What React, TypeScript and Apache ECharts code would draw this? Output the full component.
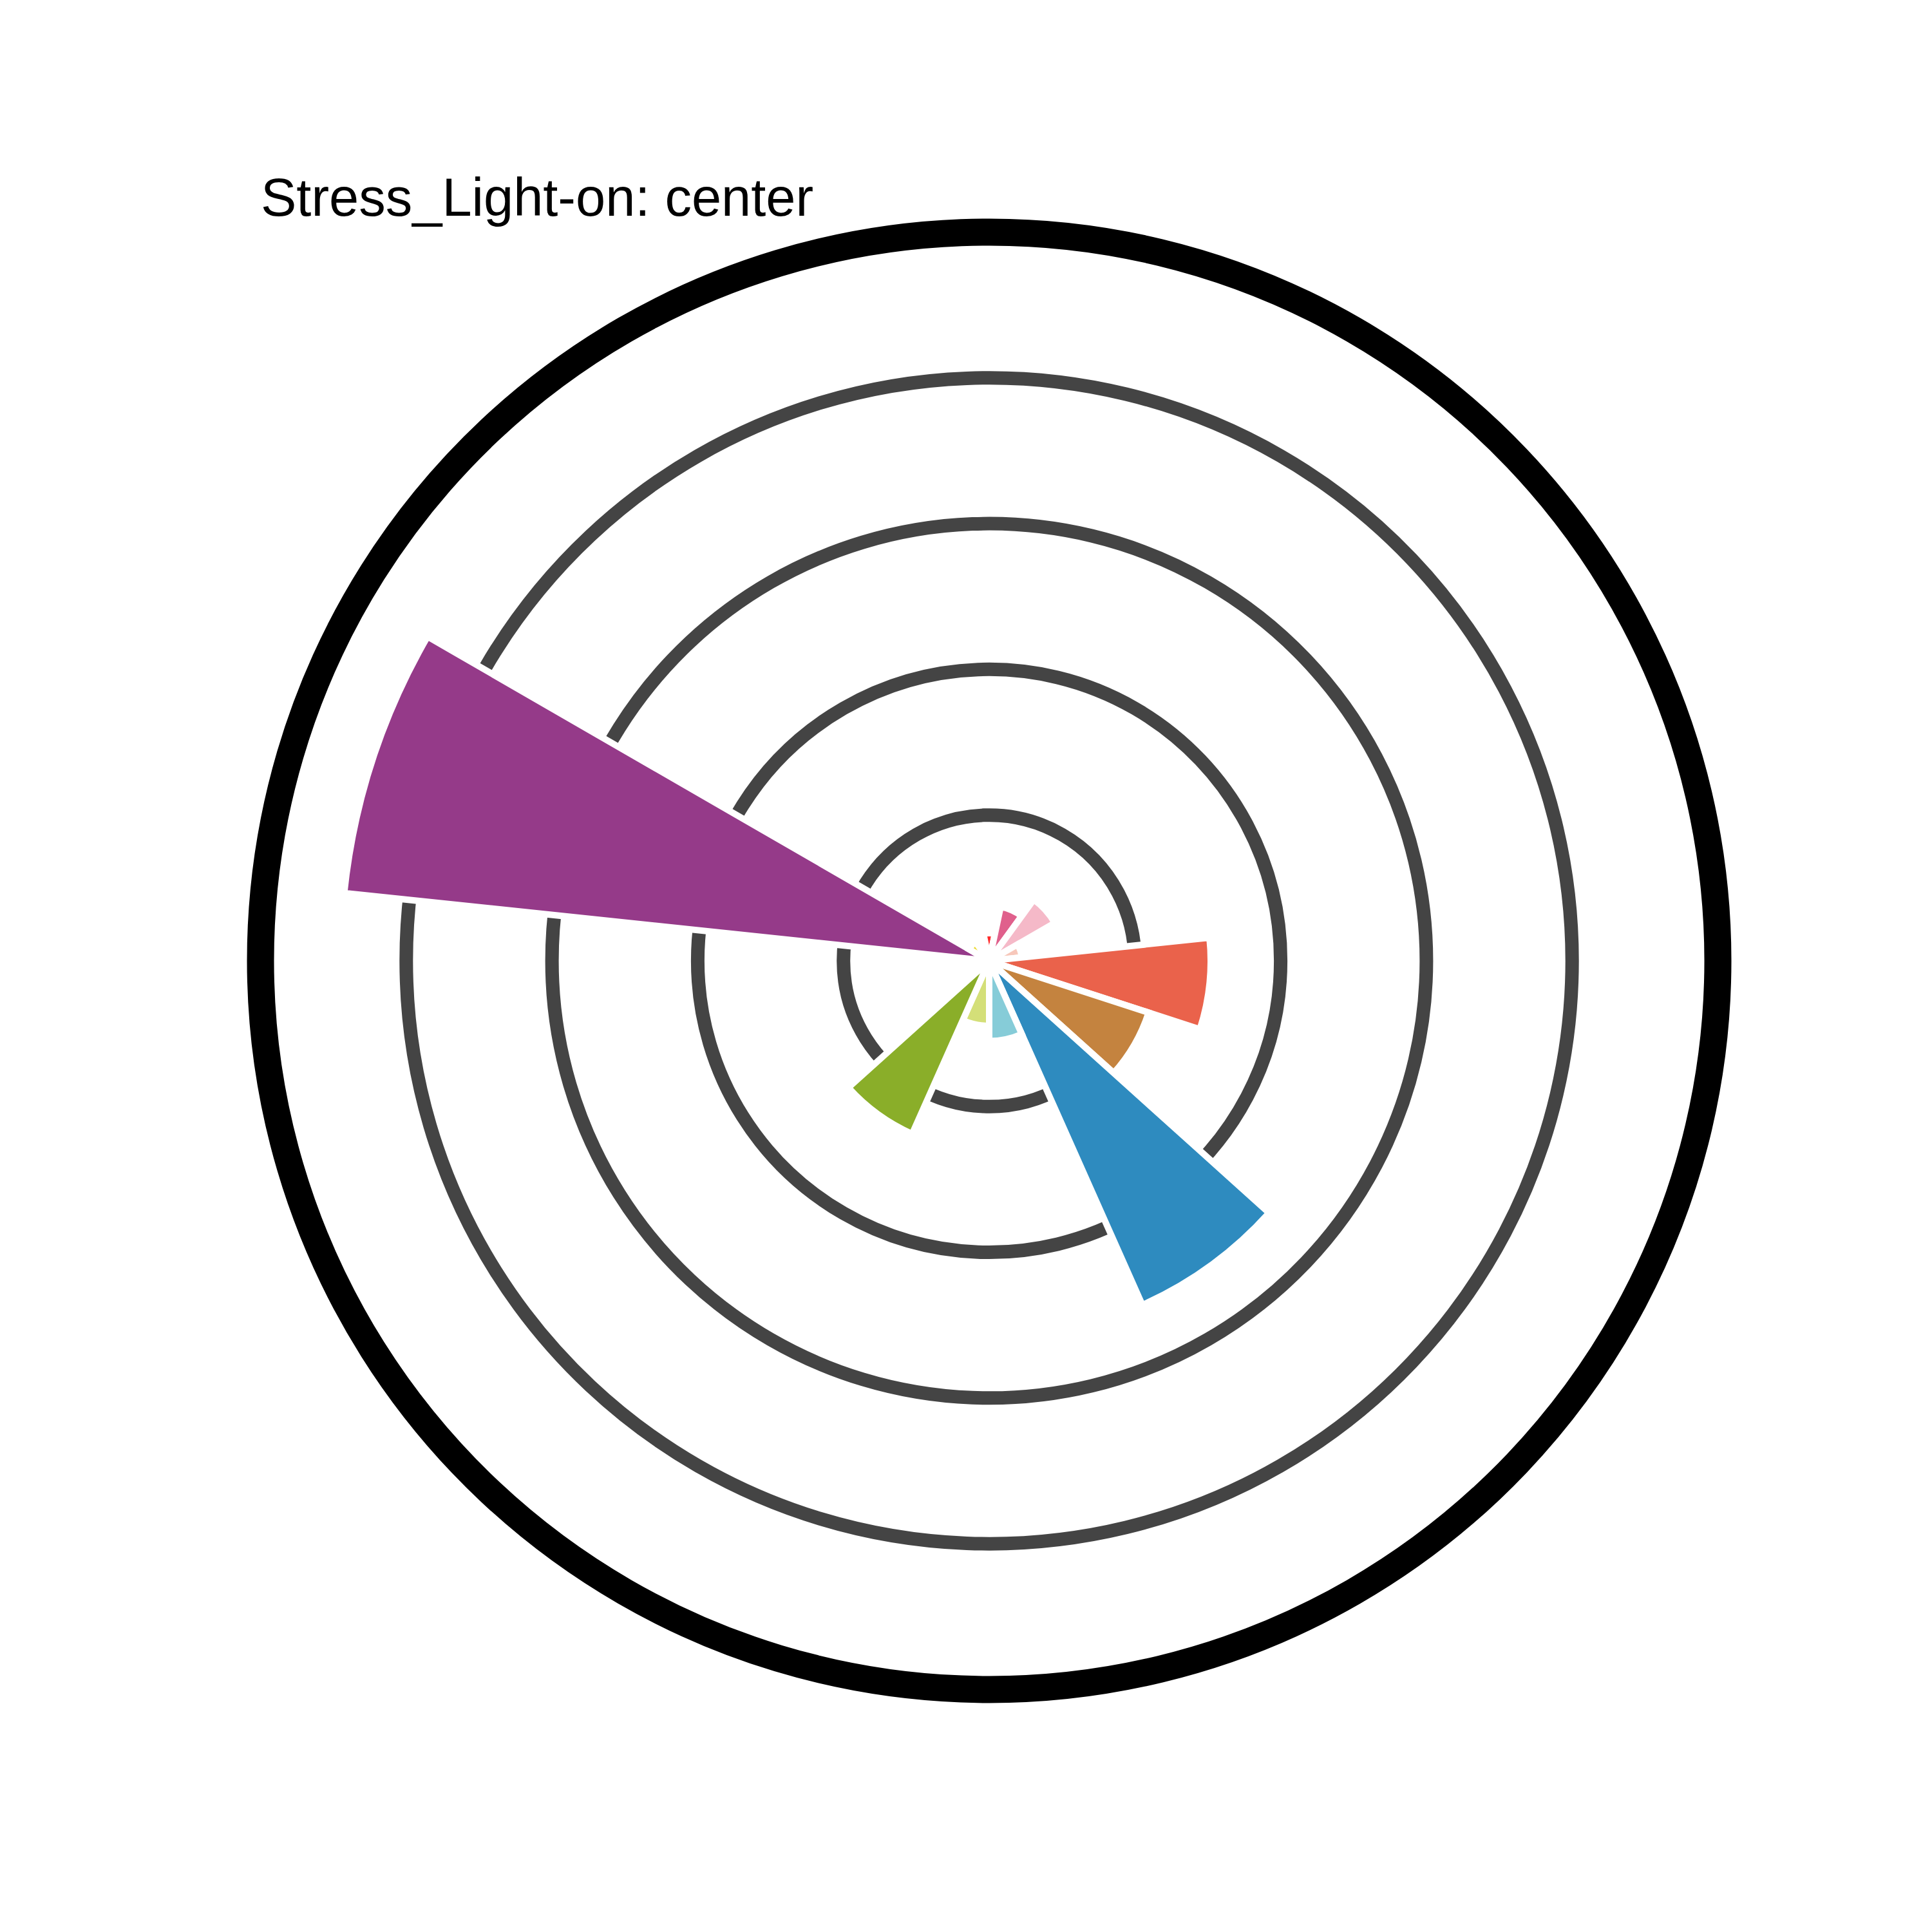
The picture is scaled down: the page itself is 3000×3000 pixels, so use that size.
import React, { useEffect, useRef } from "react";
import * as echarts from "echarts";

// Categories (clockwise from top); values in radius units (grid interval = 1)
const categories = [
  "Z01", "Z02", "Z03", "Z04", "Z05", "Z06", "Z07", "Z08",
  "Z09", "Z10", "Z11", "Z12", "Z13", "Z14", "Z15",
];
const values = [
  0.19, 0.38, 0.52, 0.225, 1.52, 1.15, 2.585, 0.55,
  0.446, 1.3, 0, 0, 4.45, 0.16, 0,
];
const colors = [
  "#FF2B2B", "#E0608C", "#F5B9C8", "#F7C7BA", "#EA624B", "#C4833F", "#2E8BBF", "#86CCD8",
  "#D4DF78", "#8AAE29", "#B0B0B0", "#B0B0B0", "#953A89", "#EBD92D", "#B0B0B0",
];
const radiusTicks = [0, 1, 2, 3, 4, 5];
const titleText = "Stress_Light-on: center";

export default function App() {
  const ref = useRef<HTMLDivElement>(null);
  useEffect(() => {
    if (!ref.current) return;
    const chart = echarts.init(ref.current, undefined, { renderer: "svg" });
    const gridColors = radiusTicks.map((t, i) =>
      i === 0 || i === radiusTicks.length - 1 ? "rgba(0,0,0,0)" : "#444444"
    );
    chart.setOption({
      animation: false,
      backgroundColor: "#ffffff",
      polar: {
        center: [1528, 1484],
        radius: 1131.5,
      },
      angleAxis: {
        type: "category",
        data: categories,
        startAngle: 102,
        clockwise: true,
        boundaryGap: true,
        axisLine: { show: true, lineStyle: { color: "#000000", width: 42 } },
        axisTick: { show: false },
        axisLabel: { show: false },
        splitLine: { show: false },
        z: 5,
      },
      radiusAxis: {
        type: "value",
        min: radiusTicks[0],
        max: radiusTicks[radiusTicks.length - 1],
        interval: 1,
        axisLine: { show: false },
        axisTick: { show: false },
        axisLabel: { show: false },
        splitLine: { show: true, lineStyle: { color: gridColors, width: 21 } },
      },
      series: [
        {
          type: "bar",
          coordinateSystem: "polar",
          barCategoryGap: "0%",
          data: values.map((v, i) => ({
            value: v,
            itemStyle: { color: colors[i] },
          })),
          itemStyle: { borderColor: "#ffffff", borderWidth: 10 },
          z: 2,
        },
      ],
      graphic: [
        {
          type: "text",
          x: 397,
          y: 298,
          style: {
            text: titleText,
            font: '83px "Liberation Sans", Arial, sans-serif',
            fill: "#000000",
            textAlign: "left",
            textVerticalAlign: "middle",
          },
        },
      ],
    });
    return () => chart.dispose();
  }, []);
  return <div ref={ref} style={{ width: 3000, height: 3000 }} />;
}
